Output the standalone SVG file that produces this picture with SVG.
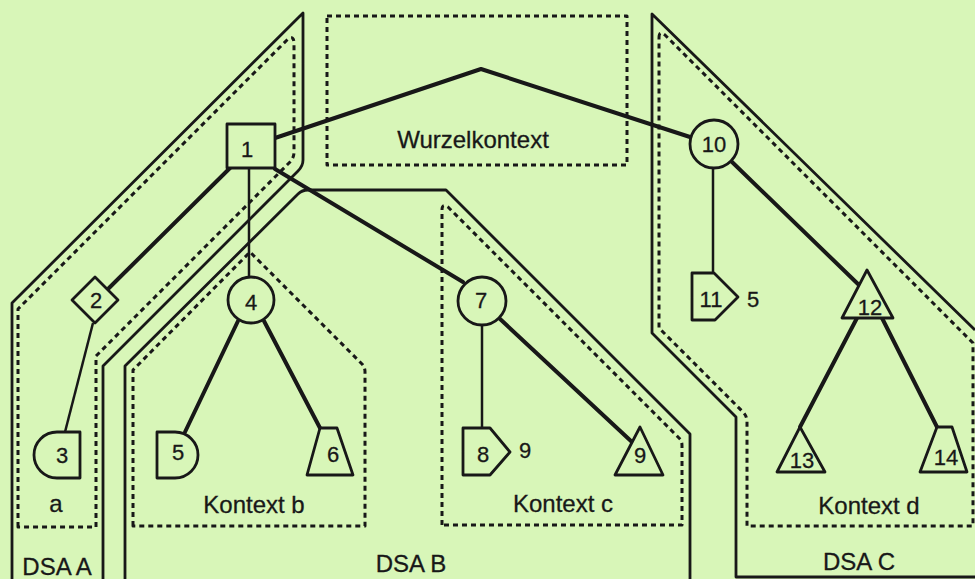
<svg xmlns="http://www.w3.org/2000/svg" width="975" height="579" viewBox="0 0 975 579">
  <style>
    .bg { fill: #d8f6b8; }
    .dsa { fill: none; stroke: #181818; stroke-width: 2.8; stroke-linejoin: round; }
    .ctx { fill: none; stroke: #181818; stroke-width: 3; stroke-dasharray: 5 4; stroke-linejoin: round; }
    .thick { fill: none; stroke: #181818; stroke-width: 4; stroke-linecap: round; stroke-linejoin: round; }
    .thin { fill: none; stroke: #181818; stroke-width: 2.5; }
    .node { fill: #d8f6b8; stroke: #181818; stroke-width: 2.8; stroke-linejoin: round; }
    .lbl { font-family: "Liberation Sans", Arial, sans-serif; font-size: 24px; fill: #181818; stroke: #181818; stroke-width: 0.3; text-anchor: middle; }
    .num { font-family: "Liberation Sans", Arial, sans-serif; font-size: 22px; fill: #181818; stroke: #181818; stroke-width: 0.3; text-anchor: middle; }
  </style>

  <rect class="bg" x="0" y="0" width="975" height="579"/>

  <!-- DSA areas (solid outlines) -->
  <g id="dsa-areas">
    <path id="dsa-a" class="dsa" d="M12,579 V303 L303,13 V160 Q303,166 298,171 L103,366 V579"/>
    <path id="dsa-b" class="dsa" d="M125,579 V366 L298,194 Q302,190 308,190 H446 L690,434 V579"/>
    <path id="dsa-c" class="dsa" d="M975,330 L652,14 V333 L736,417 V577 H975"/>
  </g>

  <!-- naming contexts (dotted outlines) -->
  <g id="contexts">
    <path id="ctx-a" class="ctx" d="M18,527 V309 L287,40 Q294,34 294,44 V152 Q294,158 290,162 L96,356 V527 Z"/>
    <path id="ctx-b" class="ctx" d="M133,526 V370 L250,252 L362,364 Q365,367 365,372 V526 Z"/>
    <path id="ctx-c" class="ctx" d="M442,525 V210 Q442,203 448,207 L680,439 Q682,441 682,446 V525 Z"/>
    <path id="ctx-d" class="ctx" d="M659,38 Q659,30 665,35 L973,343 V526 H747 V422 Q747,416 743,412 L659,328 Z"/>
    <rect id="ctx-root" class="ctx" x="327" y="16" width="300" height="149"/>
  </g>

  <!-- connectors -->
  <g id="connectors">
    <path class="thick" d="M275,138 L481,69 L690,137"/>
    <path class="thick" d="M230,168 L109,288"/>
    <path class="thin" d="M249,168 V277"/>
    <path class="thick" d="M275,169 L463,282"/>
    <path class="thin" d="M93,323 L65,432"/>
    <path class="thick" d="M238,321 L185,432"/>
    <path class="thick" d="M264,321 L320,428"/>
    <path class="thin" d="M482,325 V428"/>
    <path class="thick" d="M499,318 L632,442"/>
    <path class="thin" d="M713,168 V273"/>
    <path class="thick" d="M731,161 L859,285"/>
    <path class="thick" d="M857,318 L800,427"/>
    <path class="thick" d="M882,318 L937,427"/>
  </g>

  <!-- nodes -->
  <g id="node-1">
    <rect class="node" x="227" y="124" width="48" height="44"/>
    <text class="num" x="247" y="157">1</text>
  </g>
  <g id="node-2">
    <path class="node" d="M95,277 L118,300 L95,323 L72,300 Z"/>
    <text class="num" x="96" y="308">2</text>
  </g>
  <g id="node-3">
    <path class="node" d="M80,432 V478 H57 A23,23 0 0 1 57,432 Z"/>
    <text class="num" x="62" y="463">3</text>
  </g>
  <g id="node-4">
    <circle class="node" cx="251" cy="300" r="23"/>
    <text class="num" x="251" y="310">4</text>
  </g>
  <g id="node-5">
    <path class="node" d="M157,432 H175 A23,23 0 0 1 175,478 H157 Z"/>
    <text class="num" x="178" y="460">5</text>
  </g>
  <g id="node-6">
    <path class="node" d="M320,428 H337 L353,475 H307 Z"/>
    <text class="num" x="333" y="462">6</text>
  </g>
  <g id="node-7">
    <circle class="node" cx="482" cy="301" r="24"/>
    <text class="num" x="481" y="308">7</text>
  </g>
  <g id="node-8">
    <path class="node" d="M463,428 H490 L510,452 L490,475 H463 Z"/>
    <text class="num" x="483" y="462">8</text>
    <text class="num" x="525" y="458">9</text>
  </g>
  <g id="node-9">
    <path class="node" d="M640,427 L663,475 H615 Z"/>
    <text class="num" x="640" y="463">9</text>
  </g>
  <g id="node-10">
    <circle class="node" cx="714" cy="144" r="24"/>
    <text class="num" x="714" y="152">10</text>
  </g>
  <g id="node-11">
    <path class="node" d="M692,273 H714 L738,297 L715,320 H692 Z"/>
    <text class="num" x="711" y="307">11</text>
    <text class="num" x="753" y="307">5</text>
  </g>
  <g id="node-12">
    <path class="node" d="M867,270 L893,318 H842 Z"/>
    <text class="num" x="870" y="315">12</text>
  </g>
  <g id="node-13">
    <path class="node" d="M800,427 L825,472 H777 Z"/>
    <text class="num" x="802" y="468">13</text>
  </g>
  <g id="node-14">
    <path class="node" d="M937,427 H952 L967,472 H920 Z"/>
    <text class="num" x="946" y="465">14</text>
  </g>

  <!-- area labels -->
  <g id="labels">
    <text class="lbl" x="473" y="148">Wurzelkontext</text>
    <text class="lbl" x="56" y="512">a</text>
    <text class="lbl" x="254" y="513">Kontext b</text>
    <text class="lbl" x="563" y="512">Kontext c</text>
    <text class="lbl" x="869" y="514">Kontext d</text>
    <text class="lbl" x="57" y="575">DSA A</text>
    <text class="lbl" x="411" y="572">DSA B</text>
    <text class="lbl" x="859" y="570">DSA C</text>
  </g>
</svg>
